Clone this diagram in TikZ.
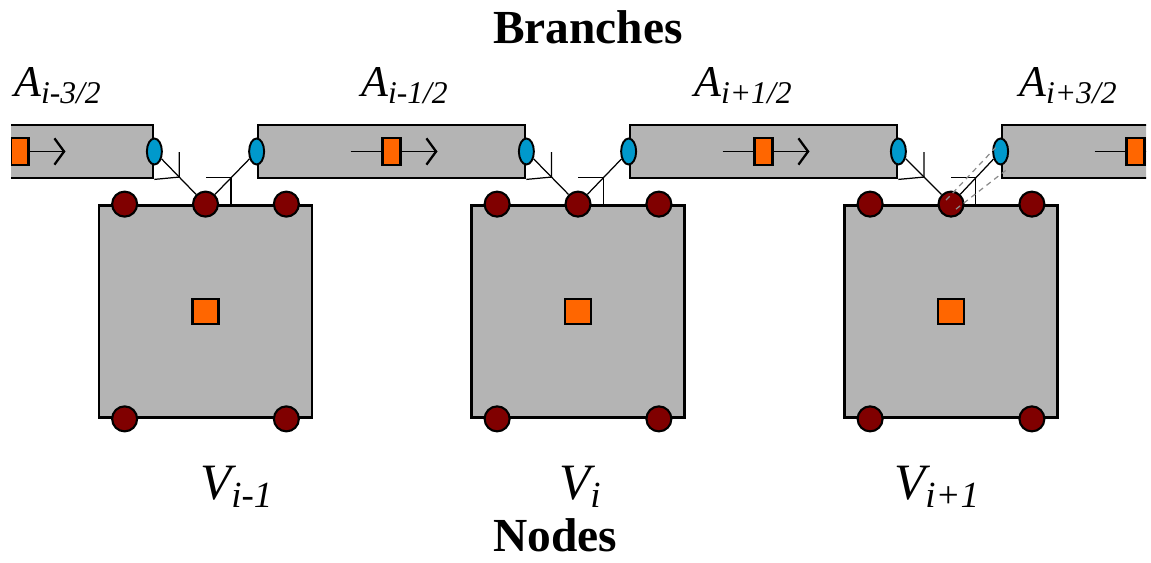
\documentclass[tikz,border=0pt]{standalone}
\usepackage{fontspec}
\setmainfont{Liberation Serif}
\usetikzlibrary{arrows.meta, positioning, shapes.geometric, calc}
\definecolor{cellgray}{RGB}{180, 180, 180}
\definecolor{pinred}{RGB}{128, 0, 0}
\definecolor{portblue}{RGB}{0, 153, 204}
\definecolor{massorange}{RGB}{255, 102, 0}
\newcommand{\withsub}[4]{{\fontsize{#3}{#3}\selectfont\itshape #1}{\fontsize{#4}{#4}\selectfont\itshape\raisebox{-0.22em}{#2}}}

\begin{document}
\begin{tikzpicture}[
      x=0.02cm, y=-0.02cm,
      branch/.style={rectangle, draw=black, line width=1.6pt, fill=cellgray, minimum width=5.34cm, minimum height=1.06cm, inner sep=0},
      cell/.style={rectangle, draw=black, line width=1.6pt, fill=cellgray, minimum width=4.26cm, minimum height=4.24cm, inner sep=0},
      pin/.style={circle, draw=black, line width=1.2pt, fill=pinred, minimum size=0.5cm, inner sep=0},
      port/.style={ellipse, draw=black, line width=1.1pt, fill=portblue, minimum width=0.3cm, minimum height=0.52cm, inner sep=0},
      mass/.style={rectangle, draw=black, line width=1.2pt, fill=massorange, minimum width=0.52cm, minimum height=0.5cm, inner sep=0},
      flux/.style={rectangle, draw=black, line width=1.2pt, fill=massorange, minimum width=0.36cm, minimum height=0.54cm, inner sep=0},
      flow/.style={-{Straight Barb[length=5.5pt, width=15pt, line width=1.3pt]}, line width=1.1pt},
      link/.style={line width=0.7pt},
      ghost/.style={dashed, dash pattern=on 3pt off 2.5pt, line width=0.7pt, black!45},
      title/.style={font=\fontsize{27}{27}\selectfont\bfseries, inner sep=0}
    ]
      \useasboundingbox (0, 0) rectangle (1151, 563);

      \node[title] (branches) at (588, 27) {Branches};
      \node[title, anchor=base] (nodes) at (555, 551) {Nodes};

      \node[anchor=base west] (A0) at (8, 97) {\withsub{A}{i-3/2}{25}{18}};
      \node[anchor=base west] (A1) at (355, 97) {\withsub{A}{i-1/2}{25}{18}};
      \node[anchor=base west] (A2) at (688, 97) {\withsub{A}{i+1/2}{25}{18}};
      \node[anchor=base west] (A3) at (1013, 97) {\withsub{A}{i+3/2}{25}{18}};

      \node[anchor=base west] (L1) at (194, 499) {\withsub{V}{i-1}{29}{21}};
      \node[anchor=base west] (L2) at (553, 499) {\withsub{V}{i}{29}{21}};
      \node[anchor=base west] (L3) at (888, 499) {\withsub{V}{i+1}{29}{21}};

      \begin{scope}
        \clip (11, 0) rectangle (1146, 563);

        % branches
        \node[branch] (B0) at (19.5, 151.5) {};
        \node[branch] (B1) at (391.5, 151.5) {};
        \node[branch] (B2) at (763.5, 151.5) {};
        \node[branch] (B3) at (1135.5, 151.5) {};

        \draw[flow] ($(B0)+(-41, 0)$) -- ($(B0)+(46, 0)$);
        \draw[flow] ($(B1)+(-41, 0)$) -- ($(B1)+(46, 0)$);
        \draw[flow] ($(B2)+(-41, 0)$) -- ($(B2)+(46, 0)$);
        \draw[flow] ($(B3)+(-41, 0)$) -- ($(B3)+(46, 0)$);
        \node[flux] at (B0) {};
        \node[flux] at (B1) {};
        \node[flux] at (B2) {};
        \node[flux] at (B3) {};

        % nodes
        \node[cell] (V1) at (205.5, 311.5) {};
        \node[cell] (V2) at (578, 311.5) {};
        \node[cell] (V3) at (951, 311.5) {};
        \node[mass] at (V1) {};
        \node[mass] at (V2) {};
        \node[mass] at (V3) {};

        \node[pin] (V1-t) at (V1.north) {};
        \node[pin] (V2-t) at (V2.north) {};
        \node[pin] (V3-t) at (V3.north) {};
        \node[pin] at ($(V1.north west)+(27, 0)$) {};
        \node[pin] at ($(V1.north east)+(-27, 0)$) {};
        \node[pin] at ($(V1.south west)+(27, 0)$) {};
        \node[pin] at ($(V1.south east)+(-27, 0)$) {};
        \node[pin] at ($(V2.north west)+(27, 0)$) {};
        \node[pin] at ($(V2.north east)+(-27, 0)$) {};
        \node[pin] at ($(V2.south west)+(27, 0)$) {};
        \node[pin] at ($(V2.south east)+(-27, 0)$) {};
        \node[pin] at ($(V3.north west)+(27, 0)$) {};
        \node[pin] at ($(V3.north east)+(-27, 0)$) {};
        \node[pin] at ($(V3.south west)+(27, 0)$) {};
        \node[pin] at ($(V3.south east)+(-27, 0)$) {};

        \node[port] (B0-e) at (B0.east) {};
        \node[port] (B1-w) at (B1.west) {};
        \node[port] (B1-e) at (B1.east) {};
        \node[port] (B2-w) at (B2.west) {};
        \node[port] (B2-e) at (B2.east) {};
        \node[port] (B3-w) at (B3.west) {};

        % links branch -> node -> branch
        \coordinate (k1) at ($(B0-e)!0.486!(V1-t)$);
        \coordinate (k2) at ($(V1-t)!0.5!(B1-w)$);
        \coordinate (k3) at ($(B1-e)!0.486!(V2-t)$);
        \coordinate (k4) at ($(V2-t)!0.5!(B2-w)$);
        \coordinate (k5) at ($(B2-e)!0.486!(V3-t)$);
        \coordinate (k6) at ($(V3-t)!0.5!(B3-w)$);

        \draw[link] (B0-e) -- (V1-t);
        \draw[link] (V1-t) -- (B1-w);
        \draw[link] (B1-e) -- (V2-t);
        \draw[link] (V2-t) -- (B2-w);
        \draw[link] (B2-e) -- (V3-t);
        \draw[link] (V3-t) -- (B3-w);

        \draw[link] (B0.south east) -- (k1) -- ++(0, -25);
        \draw[link] (k2) -- ++(-25, 0) (k2) -- (k2 |- V1.north);
        \draw[link] (B1.south east) -- (k3) -- ++(0, -25);
        \draw[link] (k4) -- ++(-25, 0) (k4) -- (k4 |- V2.north);
        \draw[link] (B2.south east) -- (k5) -- ++(0, -25);
        \draw[link] (k6) -- ++(-25, 0) (k6) -- (k6 |- V3.north);

        \draw[ghost] ([shift={(-5, -4)}]V3-t.center) -- ([shift={(-5, -4)}]B3-w.center);
        \draw[ghost] ([shift={(5, 5)}]V3-t.center) -- ([shift={(5, 5)}]B3-w.south);
      \end{scope}
    \end{tikzpicture}
\end{document}
